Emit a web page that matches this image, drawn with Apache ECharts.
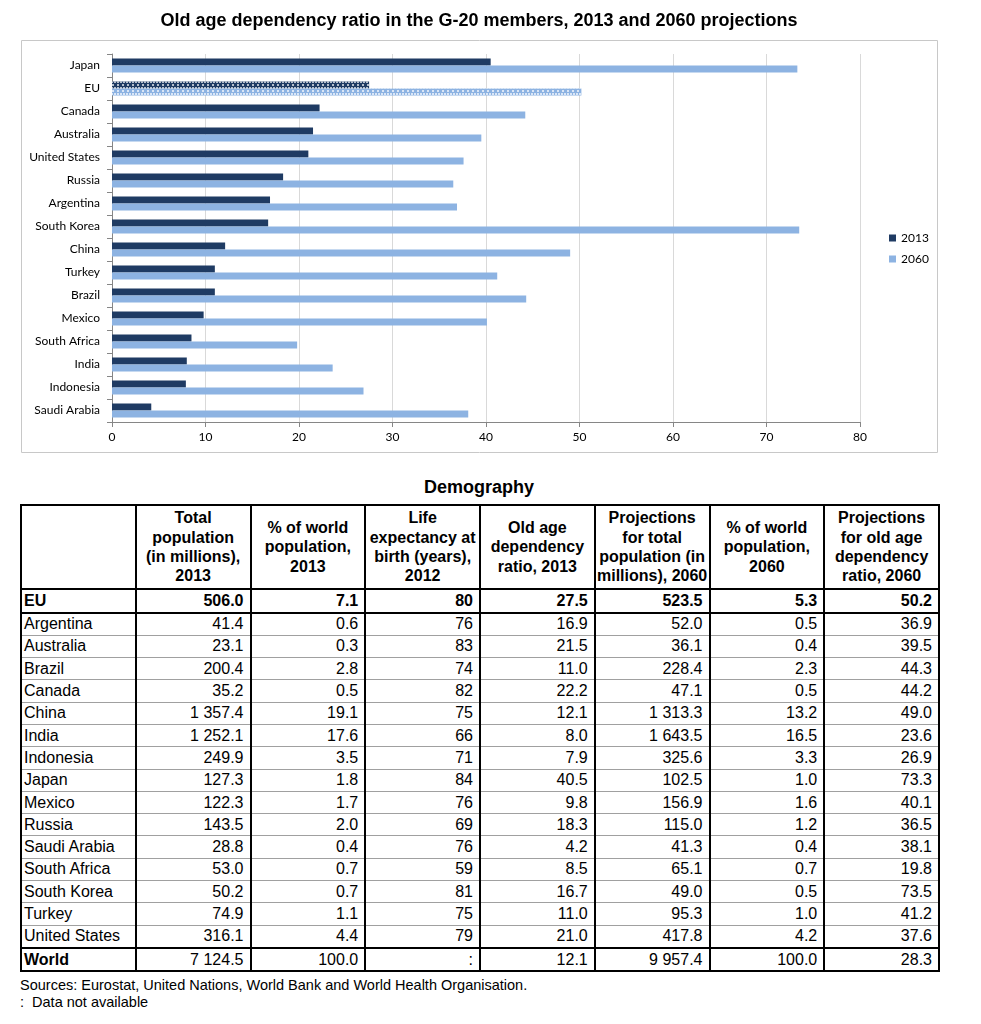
<!DOCTYPE html>
<html>
<head>
<meta charset="utf-8">
<script src="https://cdn.jsdelivr.net/npm/echarts@6/dist/echarts.min.js"></script>
<style>
  html, body { margin: 0; padding: 0; background: #fff; }
  body { width: 981px; height: 1024px; position: relative; overflow: hidden; font-family: "Liberation Sans", Arial, sans-serif; }
  #chart { position: absolute; left: 0; top: 0; width: 981px; height: 465px; }
  #demoTitle { position: absolute; left: 379px; width: 200px; top: 477px; text-align: center; font-weight: bold; font-size: 18px; }
  table { position: absolute; left: 20px; top: 504px; width: 918px; border-collapse: collapse; table-layout: fixed; font-size: 16px; color: #000; }
  td { border-left: 2px solid #000; border-right: 2px solid #000; border-top: 1px solid #a0a0a0; border-bottom: 1px solid #a0a0a0; padding: 0 6px 0 2px; text-align: right; white-space: nowrap; line-height: 18px; height: 21.3px; }
  td.name { text-align: left; }
  tr.head td { font-weight: bold; text-align: center; line-height: 19.3px; height: 82px; padding: 0; border-bottom: 2px solid #000; border-top: 2px solid #000; }
  tr.eu td { font-weight: bold; border-bottom: 2px solid #000; height: 21.5px; }
  tr.world td { border-top: 2px solid #000; border-bottom: 2px solid #000; height: 21.5px; }
  tr.world td.name { font-weight: bold; }
  #notes { position: absolute; left: 20px; top: 977px; font-size: 14.5px; line-height: 17px; }
</style>
</head>
<body>
<div id="chart"></div>
<div id="demoTitle">Demography</div>
<table id="tbl"></table>
<div id="notes">Sources: Eurostat, United Nations, World Bank and World Health Organisation.<br>:&nbsp; Data not available</div>
<script>
// ---- Chart data ----
const chartTitle = 'Old age dependency ratio in the G-20 members, 2013 and 2060 projections';
const countries = ['Japan','EU','Canada','Australia','United States','Russia','Argentina','South Korea','China','Turkey','Brazil','Mexico','South Africa','India','Indonesia','Saudi Arabia'];
const ratio2013 = [40.5,27.5,22.2,21.5,21.0,18.3,16.9,16.7,12.1,11.0,11.0,9.8,8.5,8.0,7.9,4.2];
const ratio2060 = [73.3,50.2,44.2,39.5,37.6,36.5,36.9,73.5,49.0,41.2,44.3,40.1,19.8,23.6,26.9,38.1];
const seriesNames = ['2013','2060'];
const xTicks = [0,10,20,30,40,50,60,70,80];

// ---- Table data ----
const tableHeaders = ['', 'Total\npopulation\n(in millions),\n2013', '% of world\npopulation,\n2013', 'Life\nexpectancy at\nbirth (years),\n2012', 'Old age\ndependency\nratio, 2013', 'Projections\nfor total\npopulation (in\nmillions), 2060', '% of world\npopulation,\n2060', 'Projections\nfor old age\ndependency\nratio, 2060'];
const tableNames = ['EU','Argentina','Australia','Brazil','Canada','China','India','Indonesia','Japan','Mexico','Russia','Saudi Arabia','South Africa','South Korea','Turkey','United States','World'];
const totalPop2013 = ['506.0','41.4','23.1','200.4','35.2','1 357.4','1 252.1','249.9','127.3','122.3','143.5','28.8','53.0','50.2','74.9','316.1','7 124.5'];
const worldShare2013 = ['7.1','0.6','0.3','2.8','0.5','19.1','17.6','3.5','1.8','1.7','2.0','0.4','0.7','0.7','1.1','4.4','100.0'];
const lifeExp2012 = ['80','76','83','74','82','75','66','71','84','76','69','76','59','81','75','79',':'];
const oadr2013 = ['27.5','16.9','21.5','11.0','22.2','12.1','8.0','7.9','40.5','9.8','18.3','4.2','8.5','16.7','11.0','21.0','12.1'];
const projPop2060 = ['523.5','52.0','36.1','228.4','47.1','1 313.3','1 643.5','325.6','102.5','156.9','115.0','41.3','65.1','49.0','95.3','417.8','9 957.4'];
const worldShare2060 = ['5.3','0.5','0.4','2.3','0.5','13.2','16.5','3.3','1.0','1.6','1.2','0.4','0.7','0.5','1.0','4.2','100.0'];
const oadr2060 = ['50.2','36.9','39.5','44.3','44.2','49.0','23.6','26.9','73.3','40.1','36.5','38.1','19.8','73.5','41.2','37.6','28.3'];

// ---- Build table ----
const tbl = document.getElementById('tbl');
let html = '<colgroup>' + tableHeaders.map(() => '<col style="width:114.75px">').join('') + '</colgroup>';
html += '<tr class="head">' + tableHeaders.map(h => '<td>' + h.split('\n').join('<br>') + '</td>').join('') + '</tr>';
const cols = [totalPop2013, worldShare2013, lifeExp2012, oadr2013, projPop2060, worldShare2060, oadr2060];
tableNames.forEach((n, i) => {
  const cls = n === 'EU' ? 'eu' : (n === 'World' ? 'world' : '');
  html += '<tr class="' + cls + '"><td class="name">' + n + '</td>' + cols.map(c => '<td>' + c[i] + '</td>').join('') + '</tr>';
});
tbl.innerHTML = html;

// ---- Chart ----
const dark = '#1F3B63';
const light = '#8DB3E2';
const decalStyle = { symbol: 'circle', symbolSize: 1, dashArrayX: [[2, 1], [0, 1.5, 2, 1, 0, 0]], dashArrayY: [2, 1], color: 'rgba(255,255,255,0.9)' };
const d2013 = ratio2013.map((v, i) => countries[i] === 'EU' ? { value: v, itemStyle: { decal: decalStyle } } : v);
const d2060 = ratio2060.map((v, i) => countries[i] === 'EU' ? { value: v, itemStyle: { decal: decalStyle } } : v);

const chart = echarts.init(document.getElementById('chart'), null, { renderer: 'canvas' });
const lbl = { fontFamily: 'Lato, "Open Sans", sans-serif', fontSize: 12, color: '#000' };
chart.setOption({
  animation: false,
  graphic: [
    { type: 'rect', shape: { x: 21.5, y: 40.5, width: 916, height: 412 }, style: { fill: 'none', stroke: '#c8c8c8', lineWidth: 1 }, z: -1 },
    { type: 'text', x: 479, y: 21, style: { text: chartTitle, textAlign: 'center', textVerticalAlign: 'middle', font: 'bold 18px "Liberation Sans", Arial, sans-serif', fill: '#000' } }
  ],
  legend: {
    orient: 'vertical', left: 884, top: 227, itemWidth: 7, itemHeight: 7, itemGap: 9,
    textStyle: lbl, data: seriesNames.map((n, i) => ({ name: n, icon: 'rect', itemStyle: { color: i ? light : dark } }))
  },
  grid: { left: 112, right: 121, top: 54, bottom: 43 },
  xAxis: {
    type: 'value', min: xTicks[0], max: xTicks[xTicks.length - 1], interval: 10,
    axisLine: { show: true, lineStyle: { color: '#868686' } },
    axisTick: { show: true, length: 5, lineStyle: { color: '#868686' } },
    splitLine: { show: true, lineStyle: { color: '#D9D9D9' } },
    axisLabel: Object.assign({ margin: 9 }, lbl)
  },
  yAxis: {
    type: 'category', data: countries, inverse: true,
    axisLine: { show: true, lineStyle: { color: '#868686' } },
    axisTick: { show: true, length: 5, lineStyle: { color: '#868686' } },
    axisLabel: Object.assign({ margin: 12 }, lbl)
  },
  series: [
    { name: seriesNames[0], type: 'bar', data: d2013, barWidth: 7, barGap: '0%', itemStyle: { color: dark } },
    { name: seriesNames[1], type: 'bar', data: d2060, barWidth: 7, barGap: '0%', itemStyle: { color: light } }
  ]
});
</script>
</body>
</html>
